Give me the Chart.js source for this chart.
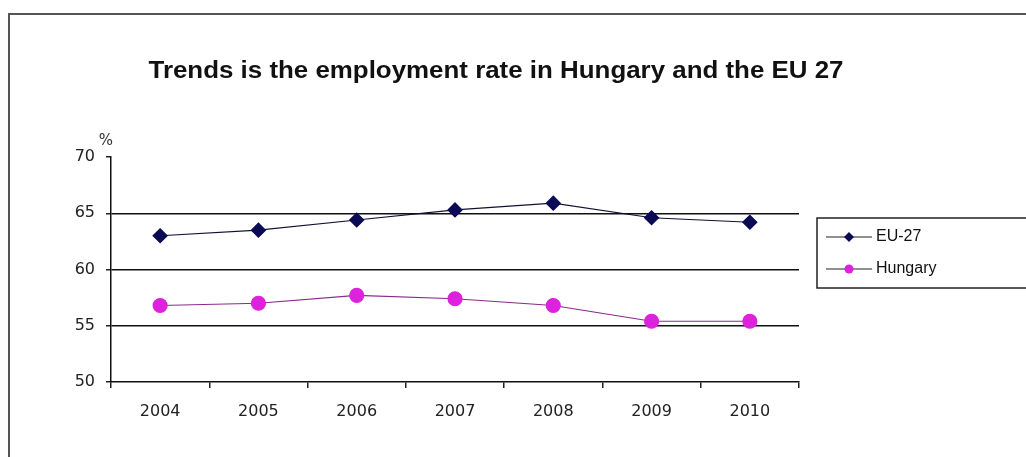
<!DOCTYPE html>
<html>
<head>
<meta charset="utf-8">
<title>Employment rate</title>
<script src="https://cdn.jsdelivr.net/npm/chart.js@4.4.1/dist/chart.umd.min.js"></script>
<style>
    body { margin: 0; background: #fff; }
    #frame {
        position: absolute; left: 8px; top: 13px; width: 1100px; height: 500px;
        border-top: 2px solid #555; border-left: 2px solid #555;
    }
    #wrap { position: absolute; left: 0; top: 0; width: 1026px; height: 457px; }
</style>
</head>
<body>
<div id="frame"></div>
<div id="wrap"><canvas id="chart" width="1026" height="457"></canvas></div>
<script>
// data
const years = ['2004', '2005', '2006', '2007', '2008', '2009', '2010'];
const eu27 = [63.0, 63.5, 64.4, 65.3, 65.9, 64.6, 64.2];
const hungary = [56.8, 57.0, 57.7, 57.4, 56.8, 55.4, 55.4];
const yTicks = [50, 55, 60, 65, 70];

const titleText = 'Trends is the employment rate in Hungary and the EU 27';
const tickFont = { family: '"DejaVu Sans", Verdana, sans-serif', size: 16 };

// title, % label and boxed legend
const extras = {
    id: 'extras',
    afterDraw(chart) {
        const ctx = chart.ctx;
        ctx.save();
        ctx.fillStyle = '#111';
        ctx.font = 'bold 23px "Liberation Sans", Arial, sans-serif';
        ctx.textAlign = 'center';
        ctx.textBaseline = 'alphabetic';
        // the original title is wide and heavy, stretch it to the same span
        const w = ctx.measureText(titleText).width;
        ctx.save();
        ctx.translate(496, 78);
        ctx.scale(695 / w, 1);
        ctx.fillText(titleText, 0, 0);
        ctx.restore();

        ctx.textBaseline = 'middle';
        ctx.font = '15px "DejaVu Sans", sans-serif';
        ctx.fillStyle = '#333';
        ctx.fillText('%', 106, 141);

        // legend box
        ctx.strokeStyle = '#222';
        ctx.lineWidth = 1.5;
        ctx.strokeRect(817, 218, 220, 70);
        chart.data.datasets.forEach((ds, i) => {
            const y = 237 + i * 32;
            ctx.strokeStyle = '#222';
            ctx.lineWidth = 1;
            ctx.beginPath();
            ctx.moveTo(826, y);
            ctx.lineTo(872, y);
            ctx.stroke();
            ctx.fillStyle = ds.pointBackgroundColor;
            ctx.beginPath();
            if (ds.pointStyle === 'rectRot') {
                ctx.moveTo(849, y - 5); ctx.lineTo(854, y); ctx.lineTo(849, y + 5); ctx.lineTo(844, y);
            } else {
                ctx.arc(849, y, 4.5, 0, Math.PI * 2);
            }
            ctx.closePath();
            ctx.fill();
            ctx.fillStyle = '#111';
            ctx.font = '16px "Liberation Sans", Arial, sans-serif';
            ctx.textAlign = 'left';
            ctx.fillText(ds.label, 876, y);
        });
        ctx.restore();
    }
};

new Chart(document.getElementById('chart'), {
    type: 'line',
    data: {
        labels: years,
        datasets: [
            {
                label: 'EU-27',
                data: eu27,
                borderColor: '#111133',
                borderWidth: 1.2,
                pointStyle: 'rectRot',
                pointRadius: 7,
                pointHoverRadius: 7,
                pointBackgroundColor: '#0b0b55',
                pointBorderColor: '#0b0b55',
                tension: 0
            },
            {
                label: 'Hungary',
                data: hungary,
                borderColor: '#8a2a8a',
                borderWidth: 1.2,
                pointStyle: 'circle',
                pointRadius: 7,
                pointHoverRadius: 7,
                pointBackgroundColor: '#dd22dd',
                pointBorderColor: '#dd22dd',
                tension: 0
            }
        ]
    },
    options: {
        responsive: false,
        animation: false,
        layout: { padding: { left: 0, right: 227, top: 157, bottom: 0 } },
        plugins: {
            legend: { display: false },
            title: { display: false },
            tooltip: { enabled: false }
        },
        scales: {
            x: {
                offset: true,
                afterFit: s => { s.height = 75; },
                grid: {
                    offset: true,
                    drawOnChartArea: false,
                    tickColor: '#222',
                    tickLength: 6,
                    lineWidth: 1.5
                },
                border: { color: '#111', width: 1.5 },
                ticks: { color: '#222', font: tickFont, padding: 14 }
            },
            y: {
                min: 50,
                max: 70,
                afterFit: s => { s.width = 111; },
                afterBuildTicks: s => { s.ticks = yTicks.map(v => ({ value: v })); },
                grid: {
                    color: c => (c.tick.value === 50 || c.tick.value === 70) ? 'rgba(0,0,0,0)' : '#111',
                    lineWidth: 1.5,
                    tickColor: '#222',
                    tickLength: 5
                },
                border: { color: '#111', width: 1.5 },
                ticks: { color: '#222', font: tickFont, padding: 11 }
            }
        }
    },
    plugins: [extras]
});
</script>
</body>
</html>
